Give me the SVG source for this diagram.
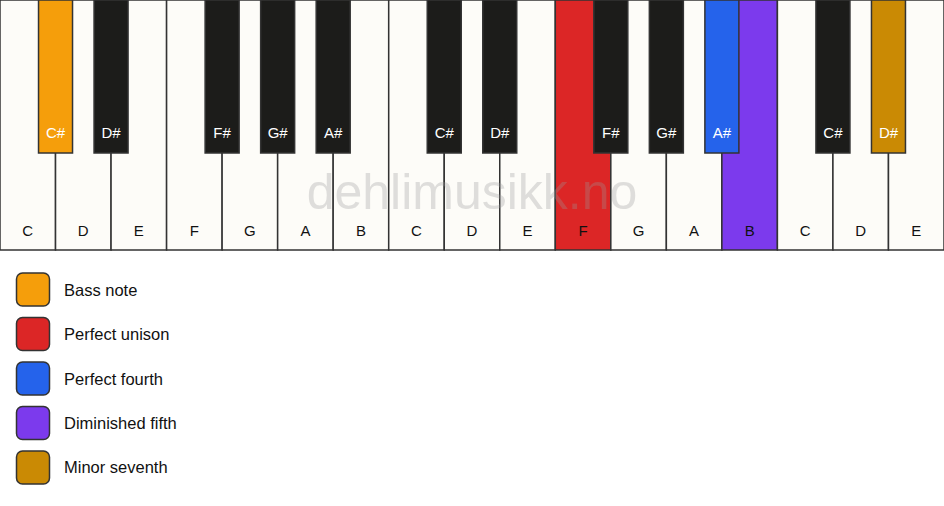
<svg xmlns="http://www.w3.org/2000/svg" width="944" height="506" viewBox="0 0 944 506">
<style>
.w{fill:#fdfcf8;stroke:#333;stroke-width:1.5}
.b{stroke:#333;stroke-width:1.5}
.wl{font-family:"Liberation Sans",Arial,sans-serif;font-size:15px;fill:#111;text-anchor:middle}
.bl{font-family:"Liberation Sans",Arial,sans-serif;font-size:15px;fill:#fff;text-anchor:middle}
.lg{font-family:"Liberation Sans",Arial,sans-serif;font-size:16.5px;fill:#111}
.sw{stroke:#333;stroke-width:1.5}
</style>
<rect width="944" height="506" fill="#fff"/>
<g id="white-keys">
<g id="w0"><rect class="w" x="0" y="0" width="55.53" height="250"/><text class="wl" x="27.76" y="236">C</text></g>
<g id="w1"><rect class="w" x="55.53" y="0" width="55.53" height="250"/><text class="wl" x="83.29" y="236">D</text></g>
<g id="w2"><rect class="w" x="111.06" y="0" width="55.53" height="250"/><text class="wl" x="138.82" y="236">E</text></g>
<g id="w3"><rect class="w" x="166.59" y="0" width="55.53" height="250"/><text class="wl" x="194.35" y="236">F</text></g>
<g id="w4"><rect class="w" x="222.12" y="0" width="55.53" height="250"/><text class="wl" x="249.88" y="236">G</text></g>
<g id="w5"><rect class="w" x="277.65" y="0" width="55.53" height="250"/><text class="wl" x="305.41" y="236">A</text></g>
<g id="w6"><rect class="w" x="333.18" y="0" width="55.53" height="250"/><text class="wl" x="360.94" y="236">B</text></g>
<g id="w7"><rect class="w" x="388.71" y="0" width="55.53" height="250"/><text class="wl" x="416.47" y="236">C</text></g>
<g id="w8"><rect class="w" x="444.24" y="0" width="55.53" height="250"/><text class="wl" x="472" y="236">D</text></g>
<g id="w9"><rect class="w" x="499.76" y="0" width="55.53" height="250"/><text class="wl" x="527.53" y="236">E</text></g>
<g id="w10"><rect class="w" x="555.29" y="0" width="55.53" height="250" style="fill:#dc2626"/><text class="wl" x="583.06" y="236">F</text></g>
<g id="w11"><rect class="w" x="610.82" y="0" width="55.53" height="250"/><text class="wl" x="638.59" y="236">G</text></g>
<g id="w12"><rect class="w" x="666.35" y="0" width="55.53" height="250"/><text class="wl" x="694.12" y="236">A</text></g>
<g id="w13"><rect class="w" x="721.88" y="0" width="55.53" height="250" style="fill:#7c3aed"/><text class="wl" x="749.65" y="236">B</text></g>
<g id="w14"><rect class="w" x="777.41" y="0" width="55.53" height="250"/><text class="wl" x="805.18" y="236">C</text></g>
<g id="w15"><rect class="w" x="832.94" y="0" width="55.53" height="250"/><text class="wl" x="860.71" y="236">D</text></g>
<g id="w16"><rect class="w" x="888.47" y="0" width="55.53" height="250"/><text class="wl" x="916.24" y="236">E</text></g>
</g>
<g id="black-keys">
<g id="b0"><rect class="b" x="38.53" y="0" width="34" height="153" fill="#f59e0b"/><text class="bl" x="55.53" y="138">C#</text></g>
<g id="b1"><rect class="b" x="94.06" y="0" width="34" height="153" fill="#1c1c1a"/><text class="bl" x="111.06" y="138">D#</text></g>
<g id="b2"><rect class="b" x="205.12" y="0" width="34" height="153" fill="#1c1c1a"/><text class="bl" x="222.12" y="138">F#</text></g>
<g id="b3"><rect class="b" x="260.65" y="0" width="34" height="153" fill="#1c1c1a"/><text class="bl" x="277.65" y="138">G#</text></g>
<g id="b4"><rect class="b" x="316.18" y="0" width="34" height="153" fill="#1c1c1a"/><text class="bl" x="333.18" y="138">A#</text></g>
<g id="b5"><rect class="b" x="427.24" y="0" width="34" height="153" fill="#1c1c1a"/><text class="bl" x="444.24" y="138">C#</text></g>
<g id="b6"><rect class="b" x="482.76" y="0" width="34" height="153" fill="#1c1c1a"/><text class="bl" x="499.76" y="138">D#</text></g>
<g id="b7"><rect class="b" x="593.82" y="0" width="34" height="153" fill="#1c1c1a"/><text class="bl" x="610.82" y="138">F#</text></g>
<g id="b8"><rect class="b" x="649.35" y="0" width="34" height="153" fill="#1c1c1a"/><text class="bl" x="666.35" y="138">G#</text></g>
<g id="b9"><rect class="b" x="704.88" y="0" width="34" height="153" fill="#2563eb"/><text class="bl" x="721.88" y="138">A#</text></g>
<g id="b10"><rect class="b" x="815.94" y="0" width="34" height="153" fill="#1c1c1a"/><text class="bl" x="832.94" y="138">C#</text></g>
<g id="b11"><rect class="b" x="871.47" y="0" width="34" height="153" fill="#ca8a04"/><text class="bl" x="888.47" y="138">D#</text></g>
</g>
<text id="watermark" x="472" y="209" font-family="Liberation Sans,Arial,sans-serif" font-size="50" fill="#999" opacity="0.3" text-anchor="middle">dehlimusikk.no</text>
<g id="legend">
<g id="lg0"><rect class="sw" x="16.5" y="273" width="33" height="33" rx="6" fill="#f59e0b"/><text class="lg" x="64" y="296">Bass note</text></g>
<g id="lg1"><rect class="sw" x="16.5" y="317.5" width="33" height="33" rx="6" fill="#dc2626"/><text class="lg" x="64" y="340">Perfect unison</text></g>
<g id="lg2"><rect class="sw" x="16.5" y="362" width="33" height="33" rx="6" fill="#2563eb"/><text class="lg" x="64" y="385">Perfect fourth</text></g>
<g id="lg3"><rect class="sw" x="16.5" y="406.5" width="33" height="33" rx="6" fill="#7c3aed"/><text class="lg" x="64" y="429">Diminished fifth</text></g>
<g id="lg4"><rect class="sw" x="16.5" y="451" width="33" height="33" rx="6" fill="#ca8a04"/><text class="lg" x="64" y="473">Minor seventh</text></g>
</g>
</svg>
